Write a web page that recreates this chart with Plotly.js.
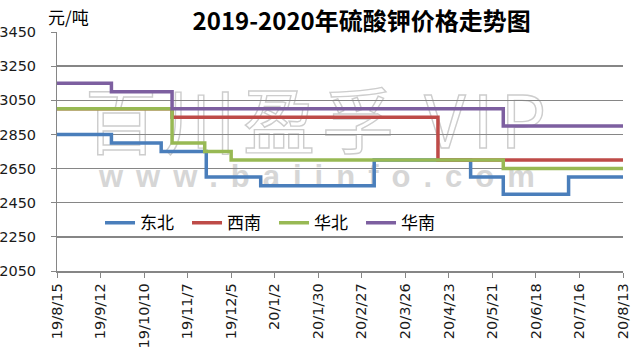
<!DOCTYPE html>
<html>
<head>
<meta charset="utf-8">
<script src="https://cdn.plot.ly/plotly-3.0.1.min.js"></script>
<style>
  html, body { margin: 0; padding: 0; background: #ffffff; }
  #wrap { position: relative; width: 639px; height: 360px; overflow: hidden; }
  #wm { position: absolute; left: 0; top: 0; width: 639px; height: 360px; z-index: 0; pointer-events: none; }
  #wm .big { position: absolute; left: 85px; top: 81px; line-height: 1; font-family: "Noto Sans CJK SC"; font-weight: normal; font-size: 72px; color: transparent; -webkit-text-stroke: 1.4px #cdcdcd; letter-spacing: 7px; white-space: pre; }
  #wm .url { position: absolute; left: 99px; top: 161px; line-height: 1; font-family: "Liberation Sans"; font-weight: bold; font-size: 31px; color: #d6d6d6; letter-spacing: 13px; white-space: nowrap; }
  #chart { position: absolute; left: 0; top: 0; z-index: 1; }
</style>
</head>
<body>
<div id="wrap">
  <div id="wm"><div class="big">百川盈孚 VIP</div><div class="url">www.baiinfo.com</div></div>
  <div id="chart"></div>
</div>
<script>
// ---- data ----
const seriesNames = ['东北', '西南', '华北', '华南'];

// 东北
const neDates  = ['2019-08-15','2019-09-19','2019-10-21','2019-11-19','2019-12-24','2020-03-06','2020-05-07','2020-05-28','2020-07-09','2020-08-13'];
const neValues = [2850, 2800, 2750, 2600, 2550, 2700, 2600, 2500, 2600, 2600];
// 西南
const swDates  = ['2019-08-15','2019-10-28','2020-04-16','2020-08-13'];
const swValues = [3000, 2950, 2700, 2700];
// 华北
const ncDates  = ['2019-08-15','2019-10-28','2019-11-18','2019-12-05','2020-05-28','2020-08-13'];
const ncValues = [3000, 2800, 2750, 2700, 2650, 2650];
// 华南
const scDates  = ['2019-08-15','2019-09-19','2019-10-28','2020-05-28','2020-08-13'];
const scValues = [3150, 3100, 3000, 2900, 2900];

const tickDates  = ['2019-08-15','2019-09-12','2019-10-10','2019-11-07','2019-12-05','2020-01-02','2020-01-30','2020-02-27','2020-03-26','2020-04-23','2020-05-21','2020-06-18','2020-07-16','2020-08-13'];
const tickLabels = ['19/8/15','19/9/12','19/10/10','19/11/7','19/12/5','20/1/2','20/1/30','20/2/27','20/3/26','20/4/23','20/5/21','20/6/18','20/7/16','20/8/13'];

const colors = ['#4a7ebb', '#be4b48', '#98b954', '#7d5fa0'];
const xs = [neDates, swDates, ncDates, scDates];
const ys = [neValues, swValues, ncValues, scValues];

const traces = seriesNames.map((n, i) => ({
  type: 'scatter', mode: 'lines', name: n,
  x: xs[i], y: ys[i],
  line: { shape: 'hv', width: 3.5, color: colors[i] },
  hoverinfo: 'skip'
}));

const grid = '#868686';
const layout = {
  width: 639, height: 360,
  margin: { l: 57, r: 16, t: 32, b: 89 },
  paper_bgcolor: 'rgba(0,0,0,0)',
  plot_bgcolor: 'rgba(0,0,0,0)',
  showlegend: true,
  title: {
    text: '<b>2019-2020年硫酸钾价格走势图</b>',
    font: { family: 'Noto Sans CJK SC', size: 24, color: '#000000' },
    xref: 'container', yref: 'container',
    x: 0.566, xanchor: 'center', y: 0.94, yanchor: 'middle'
  },
  xaxis: {
    type: 'date',
    range: ['2019-08-15', '2020-08-13'],
    tickmode: 'array', tickvals: tickDates, ticktext: tickLabels,
    tickangle: -90,
    ticks: 'outside', ticklen: 5, tickcolor: grid, tickwidth: 1,
    showline: true, linecolor: grid, linewidth: 1.5,
    showgrid: false, zeroline: false, automargin: false,
    tickfont: { family: 'DejaVu Sans', size: 14.5, color: '#1a1a1a' }
  },
  yaxis: {
    range: [2050, 3450],
    tickmode: 'linear', tick0: 2050, dtick: 200,
    ticks: 'outside', ticklen: 5, tickcolor: grid, tickwidth: 1,
    ticklabelstandoff: 12,
    showline: true, linecolor: grid, linewidth: 1,
    showgrid: true, gridcolor: grid, gridwidth: 1.5,
    zeroline: false, automargin: false,
    tickfont: { family: 'DejaVu Sans', size: 14.5, color: '#1a1a1a' }
  },
  legend: {
    orientation: 'h',
    x: 0.076, xanchor: 'left',
    y: 0.2, yanchor: 'middle',
    bgcolor: 'rgba(0,0,0,0)',
    font: { family: 'Noto Sans CJK SC', size: 17, color: '#000000' },
    entrywidth: 42, entrywidthmode: 'pixels',
    traceorder: 'normal'
  },
  annotations: [{
    text: '元/吨', showarrow: false,
    xref: 'paper', yref: 'paper',
    x: -0.02, xanchor: 'left', y: 1.063, yanchor: 'middle',
    font: { family: 'Noto Sans CJK SC', size: 17, color: '#000000' }
  }]
};

Plotly.newPlot('chart', traces, layout, { staticPlot: true, displayModeBar: false });
</script>
</body>
</html>
